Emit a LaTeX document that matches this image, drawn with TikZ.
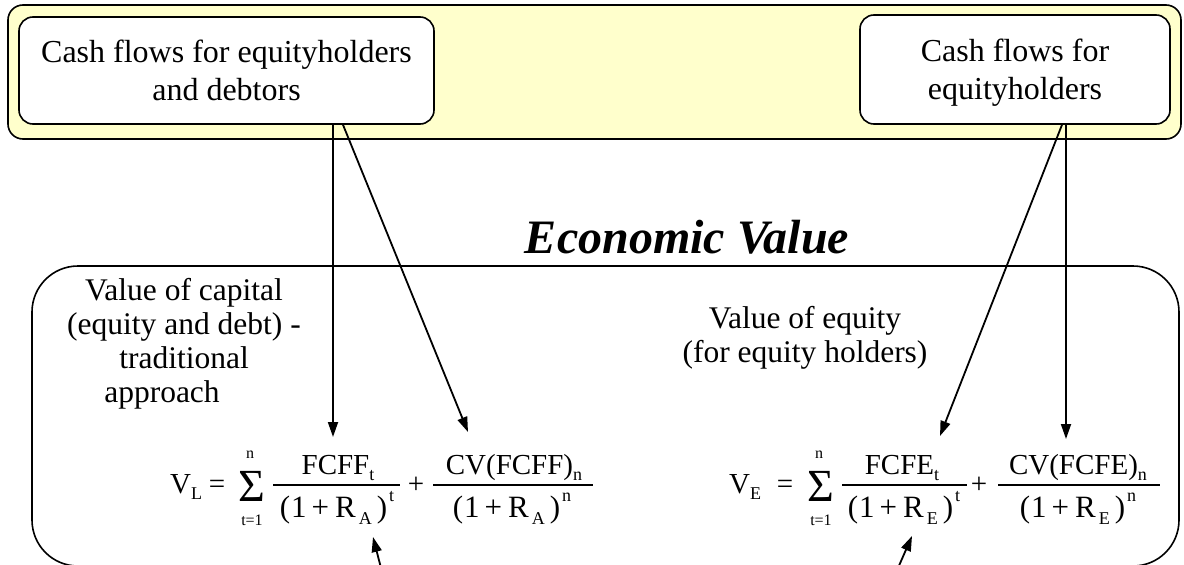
\documentclass[tikz,border=0pt]{standalone}
\usepackage{fontspec}
\setmainfont{Liberation Serif}
\usetikzlibrary{arrows.meta}
\definecolor{paleyellow}{RGB}{255,255,204}
\newcommand\mysub[1]{\raisebox{-0.24em}{\fontsize{18}{20}\selectfont #1}}
\newcommand\mysup[1]{\raisebox{0.5em}{\fontsize{18}{20}\selectfont #1}}
\newcommand\myden[2]{(\hspace{1pt}1\hspace{5pt}+\hspace{6pt}R\hspace{3pt}\mysub{#1}\hspace{5pt})\hspace{2pt}\mysup{#2}}
\begin{document}
\begin{tikzpicture}[x=1pt,y=-1pt,
  box/.style={draw=black, line width=1.6pt, rounded corners=14pt, fill=white, inner sep=0pt, align=center, font=\fontsize{32}{38}\selectfont},
  arr/.style={line width=1.8pt, -{Triangle[length=15pt,width=10pt]}},
  fm/.style={inner sep=0pt, anchor=base, font=\fontsize{29}{35}\selectfont},
  dn/.style={inner sep=0pt, anchor=base, font=\fontsize{31}{35}\selectfont},
  sig/.style={inner sep=0pt, anchor=base, text height=31pt, text depth=0pt, font=\fontsize{46}{54}\selectfont},
  lim/.style={inner sep=0pt, anchor=base, font=\fontsize{16}{18}\selectfont},
  lbl/.style={inner sep=0pt, align=center, anchor=base, font=\fontsize{31.5}{33.7}\selectfont},
  fbar/.style={line width=1.2pt}]
\useasboundingbox (0,0) rectangle (1184,565);
% upper band
\draw[line width=1.6pt, rounded corners=15pt, fill=paleyellow] (8,5) rectangle (1181,139);
\node[box, minimum width=415pt, minimum height=107pt] (cfL) at (226.5,70.5) {Cash flows for equityholders\\and debtors};
\node[box, minimum width=310pt, minimum height=109pt, text depth=0pt] (cfR) at (1015,69.5) {Cash flows for\\equityholders};
% lower box
\draw[line width=1.6pt, rounded corners=46pt] (32,266) rectangle (1179,566);
\node[inner sep=0pt, anchor=base, font=\fontsize{48}{56}\selectfont\bfseries\itshape] (ev) at (687,253) {Economic Value};
\node[lbl] (capL) at (184,402) {Value of capital\\(equity and debt) -\\traditional\\approach\hspace*{44pt}};
\node[lbl] (capR) at (805,362) {Value of equity\\(for equity holders)};
% left formula
\node[fm, anchor=base west] (VL) at (170,493) {V\mysub{L}};
\node[fm] (eqL) at (217,493) {=};
\node[sig] (sgL) at (252,501) {Σ};
\node[lim] (nL) at (250,458) {n};
\node[lim] (tL) at (252,525) {t=1};
\node[fm] (nuL1) at (338,474) {FCFF\mysub{t}};
\draw[fbar] (273,485) -- (400,485);
\node[dn] (deL1) at (337,517) {\myden{A}{t}};
\node[fm] (plL) at (416,493) {+};
\node[fm] (nuL2) at (514,474) {CV(FCFF)\mysub{n}};
\draw[fbar] (433,485) -- (593,485);
\node[dn] (deL2) at (512,517) {\myden{A}{n}};
% right formula
\node[fm, anchor=base west] (VE) at (729,493) {V\mysub{E}};
\node[fm] (eqR) at (785,493) {=};
\node[sig] (sgR) at (821,501) {Σ};
\node[lim] (nR) at (819,458) {n};
\node[lim] (tR) at (821,525) {t=1};
\node[fm] (nuR1) at (902,474) {FCFE\mysub{t}};
\draw[fbar] (842,485) -- (967,485);
\node[dn] (deR1) at (904,517) {\myden{E}{t}};
\node[fm] (plR) at (979,493) {+};
\node[fm] (nuR2) at (1078,474) {CV(FCFE)\mysub{n}};
\draw[fbar] (998,485) -- (1160,485);
\node[dn] (deR2) at (1078,517) {\myden{E}{n}};
% arrows
\coordinate (tA1) at (333,437);
\coordinate (tA2) at (468,432);
\coordinate (tA3) at (940,436);
\coordinate (tA4) at (1066,439);
\draw[arr] (cfL.south -| tA1) -- (tA1);
\draw[arr] ([xshift=116.5pt]cfL.south) -- (tA2);
\draw[arr] ([xshift=47pt]cfR.south) -- (tA3);
\draw[arr] (cfR.south -| tA4) -- (tA4);
\coordinate (bL) at (381,568);
\coordinate (tB1) at (373,537);
\coordinate (bR) at (898,568);
\coordinate (tB2) at (912,536);
\draw[arr] (bL) -- (tB1);
\draw[arr] (bR) -- (tB2);
\end{tikzpicture}
\end{document}
